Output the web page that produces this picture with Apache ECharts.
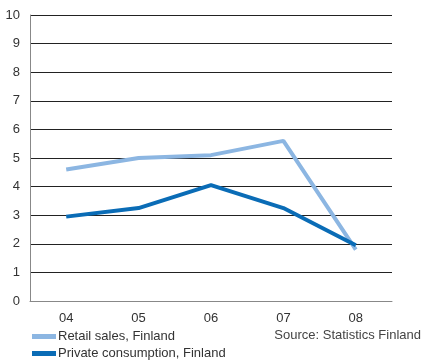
<!DOCTYPE html>
<html>
<head>
<meta charset="utf-8">
<script src="https://cdn.jsdelivr.net/npm/echarts@6/dist/echarts.min.js"></script>
<style>
  html, body { margin: 0; padding: 0; background: #fff; }
  #chart { width: 425px; height: 361px; }
</style>
</head>
<body>
<div id="chart"></div>
<script>
    var years = ['04', '05', '06', '07', '08'];
    var retailSales = [4.6, 5.0, 5.1, 5.6, 1.8];
    var privateConsumption = [2.95, 3.25, 4.05, 3.25, 1.95];
    var seriesNames = ['Retail sales, Finland', 'Private consumption, Finland'];
    var sourceText = 'Source: Statistics Finland';

    var chart = echarts.init(document.getElementById('chart'));
    var font = 'Liberation Sans, Arial, sans-serif';

    // 图例：两行，各一个
    function legendRow(name, top) {
        return {
            orient: 'horizontal',
            left: 27,
            top: top,
            itemWidth: 24,
            itemHeight: 5,
            icon: 'rect',
            textStyle: { fontSize: 13, color: '#333', fontFamily: font, padding: [0, 0, 0, -3] },
            data: [name]
        };
    }

    var option = {
        animation: false,
        textStyle: { fontFamily: font },
        grid: { left: 30, right: 33, top: 15, bottom: 60 },
        legend: [legendRow(seriesNames[0], 325), legendRow(seriesNames[1], 342)],
        graphic: [{
            type: 'text',
            right: 4,
            top: 329,
            style: { text: sourceText, fontSize: 13, fill: '#444', fontFamily: font }
        }],
        xAxis: {
            type: 'category',
            data: years,
            boundaryGap: true,
            axisLine: { lineStyle: { color: '#888', width: 1 } },
            axisTick: { show: false },
            axisLabel: { color: '#333', fontSize: 13, margin: 11 }
        },
        yAxis: {
            type: 'value',
            min: 0,
            max: 10,
            interval: 1,
            axisLine: { show: true, lineStyle: { color: '#888', width: 1 } },
            axisTick: { show: false },
            axisLabel: { color: '#333', fontSize: 13, margin: 10 },
            splitLine: { lineStyle: { color: '#222', width: 1 } }
        },
        series: [
            {
                name: seriesNames[0],
                type: 'line',
                data: retailSales,
                symbol: 'none',
                color: '#8cb6e2',
                lineStyle: { width: 4, color: '#8cb6e2' }
            },
            {
                name: seriesNames[1],
                type: 'line',
                data: privateConsumption,
                symbol: 'none',
                color: '#0a6cb6',
                lineStyle: { width: 4, color: '#0a6cb6' }
            }
        ]
    };

    chart.setOption(option);
</script>
</body>
</html>
